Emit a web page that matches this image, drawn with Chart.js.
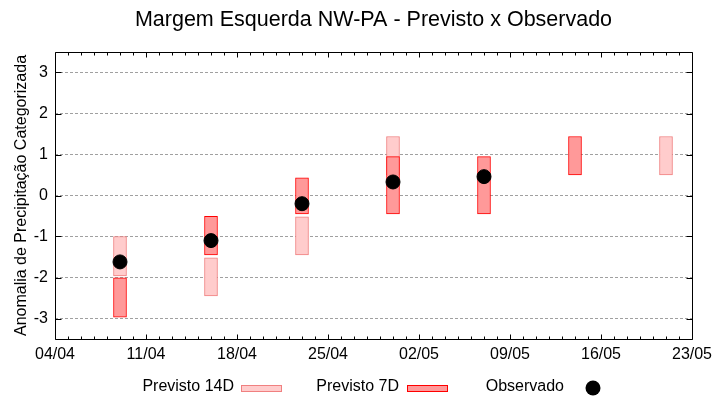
<!DOCTYPE html>
<html>
<head>
<meta charset="utf-8">
<script src="https://cdn.jsdelivr.net/npm/chart.js@4.4.1/dist/chart.umd.min.js"></script>
<style>
html,body{margin:0;padding:0;background:#fff;}
canvas{display:block;}
</style>
</head>
<body>
<canvas id="c" width="720" height="400"></canvas>
<script>
// ---- data ----
const startDate = '04/04';
const categories = ['09/04', '16/04', '23/04', '30/04', '07/05', '14/05', '21/05'];
const prev14Low  = [-1.96, -2.45, -1.45, 0.50, null, null, 0.50];
const prev14High = [-1.00, -1.52, -0.52, 1.44, null, null, 1.44];
const prev7Low   = [-2.97, -1.45, -0.45, -0.45, -0.45, 0.50, null];
const prev7High  = [-2.01, -0.51, 0.43, 0.95, 0.95, 1.44, null];
const observed   = [-1.62, -1.10, -0.20, 0.33, 0.46, null, null];
const xTickLabels = ['04/04', '11/04', '18/04', '25/04', '02/05', '09/05', '16/05', '23/05'];
const yTickValues = [-3, -2, -1, 0, 1, 2, 3];

function dayIndex(s) {
  const p = s.split('/').map(Number);
  const q = startDate.split('/').map(Number);
  return Math.round((Date.UTC(2024, p[1] - 1, p[0]) - Date.UTC(2024, q[1] - 1, q[0])) / 864e5);
}
const xDays = categories.map(dayIndex);
const xTickValues = xTickLabels.map(dayIndex);

const FONT = 'Liberation Sans, Arial, sans-serif';

function floatData(lo, hi) {
  return xDays.map((d, i) => ({ x: d, y: (lo[i] === null || hi[i] === null) ? null : [lo[i], hi[i]] }));
}

const framePlugin = {
  id: 'frame',
  afterDraw(chart) {
    const { ctx, chartArea: a, scales: { x, y } } = chart;
    ctx.save();
    ctx.strokeStyle = '#000';
    ctx.lineWidth = 1;
    ctx.beginPath();
    const L = Math.round(a.left) + 0.5, R = Math.round(a.right) + 0.5;
    const T = Math.round(a.top) + 0.5, B = Math.round(a.bottom) + 0.5;
    ctx.rect(L, T, R - L, B - T);
    yTickValues.forEach(v => {
      const py = Math.round(y.getPixelForValue(v)) + 0.5;
      ctx.moveTo(L, py); ctx.lineTo(L + 6, py);
      ctx.moveTo(R, py); ctx.lineTo(R - 6, py);
    });
    for (let d = x.min; d <= x.max; d++) {
      const px = Math.round(x.getPixelForValue(d)) + 0.5;
      const len = xTickValues.includes(d) ? 5 : 3;
      ctx.moveTo(px, B); ctx.lineTo(px, B - len);
      ctx.moveTo(px, T); ctx.lineTo(px, T + len);
    }
    ctx.stroke();

    // legend (gnuplot style: text right-justified before sample)
    const ds = chart.data.datasets;
    ctx.font = '16px ' + FONT;
    ctx.textAlign = 'right';
    ctx.textBaseline = 'alphabetic';
    const items = [
      { ds: ds[2], sx: 241, textR: 234 },
      { ds: ds[1], sx: 407, textR: 399 },
      { ds: ds[0], sx: 593, textR: 564 }
    ];
    items.forEach(it => {
      ctx.fillStyle = '#000';
      ctx.fillText(it.ds.label, it.textR, 391);
      if (it.ds.type === 'scatter') {
        ctx.beginPath();
        ctx.arc(it.sx, 388, 7.5, 0, Math.PI * 2);
        ctx.fillStyle = it.ds.backgroundColor;
        ctx.fill();
      } else {
        ctx.fillStyle = it.ds.backgroundColor;
        ctx.fillRect(it.sx + 0.5, 385.5, 40, 6);
        ctx.strokeStyle = it.ds.borderColor;
        ctx.strokeRect(it.sx + 0.5, 385.5, 40, 6);
      }
    });
    ctx.restore();
  }
};

new Chart(document.getElementById('c'), {
  type: 'bar',
  data: {
    datasets: [
      {
        type: 'scatter',
        label: 'Observado',
        data: xDays.map((d, i) => ({ x: d, y: observed[i] })),
        backgroundColor: '#000',
        borderColor: '#000',
        borderWidth: 1,
        pointRadius: 7,
        order: 0
      },
      {
        label: 'Previsto 7D',
        data: floatData(prev7Low, prev7High),
        backgroundColor: 'rgb(255,153,153)',
        borderColor: 'rgb(255,0,0)',
        borderWidth: 1,
        borderSkipped: false,
        barThickness: 13,
        grouped: false,
        order: 1
      },
      {
        label: 'Previsto 14D',
        data: floatData(prev14Low, prev14High),
        backgroundColor: 'rgb(255,204,204)',
        borderColor: 'rgb(240,128,128)',
        borderWidth: 1,
        borderSkipped: false,
        barThickness: 13,
        grouped: false,
        order: 2
      }
    ]
  },
  options: {
    responsive: false,
    animation: false,
    devicePixelRatio: 1,
    layout: { padding: { left: 0, right: 28, top: 0, bottom: 0 } },
    scales: {
      x: {
        type: 'linear',
        min: 0,
        max: 49,
        offset: false,
        grid: { display: false, drawTicks: false, offset: false },
        border: { display: false },
        afterBuildTicks: s => { s.ticks = xTickValues.map(v => ({ value: v })); },
        afterFit: s => { s.height = 61; },
        ticks: {
          autoSkip: false,
          maxRotation: 0,
          padding: 6,
          color: '#000',
          font: { family: FONT, size: 16 },
          callback: (v) => { const i = xTickValues.indexOf(v); return i >= 0 ? xTickLabels[i] : ''; }
        }
      },
      y: {
        type: 'linear',
        min: -3.5,
        max: 3.5,
        grid: { color: '#a0a0a0', lineWidth: 1, drawTicks: false },
        border: { display: false, dash: [3, 2] },
        afterBuildTicks: s => { s.ticks = yTickValues.map(v => ({ value: v })); },
        afterFit: s => { s.width = 55; },
        ticks: {
          padding: 7,
          color: '#000',
          font: { family: FONT, size: 16 },
          callback: v => String(v)
        },
        title: {
          display: true,
          text: 'Anomalia de Precipitação Categorizada',
          color: '#000',
          font: { family: FONT, size: 16 },
          padding: { top: 12, bottom: 0 }
        }
      }
    },
    plugins: {
      legend: { display: false },
      tooltip: { enabled: false },
      title: {
        display: true,
        text: 'Margem Esquerda NW-PA - Previsto x Observado',
        color: '#000',
        fullSize: false,
        font: { family: FONT, size: 21.5, weight: 'normal', lineHeight: '25px' },
        padding: { top: 8, bottom: 19 }
      }
    }
  },
  plugins: [framePlugin]
});
</script>
</body>
</html>
